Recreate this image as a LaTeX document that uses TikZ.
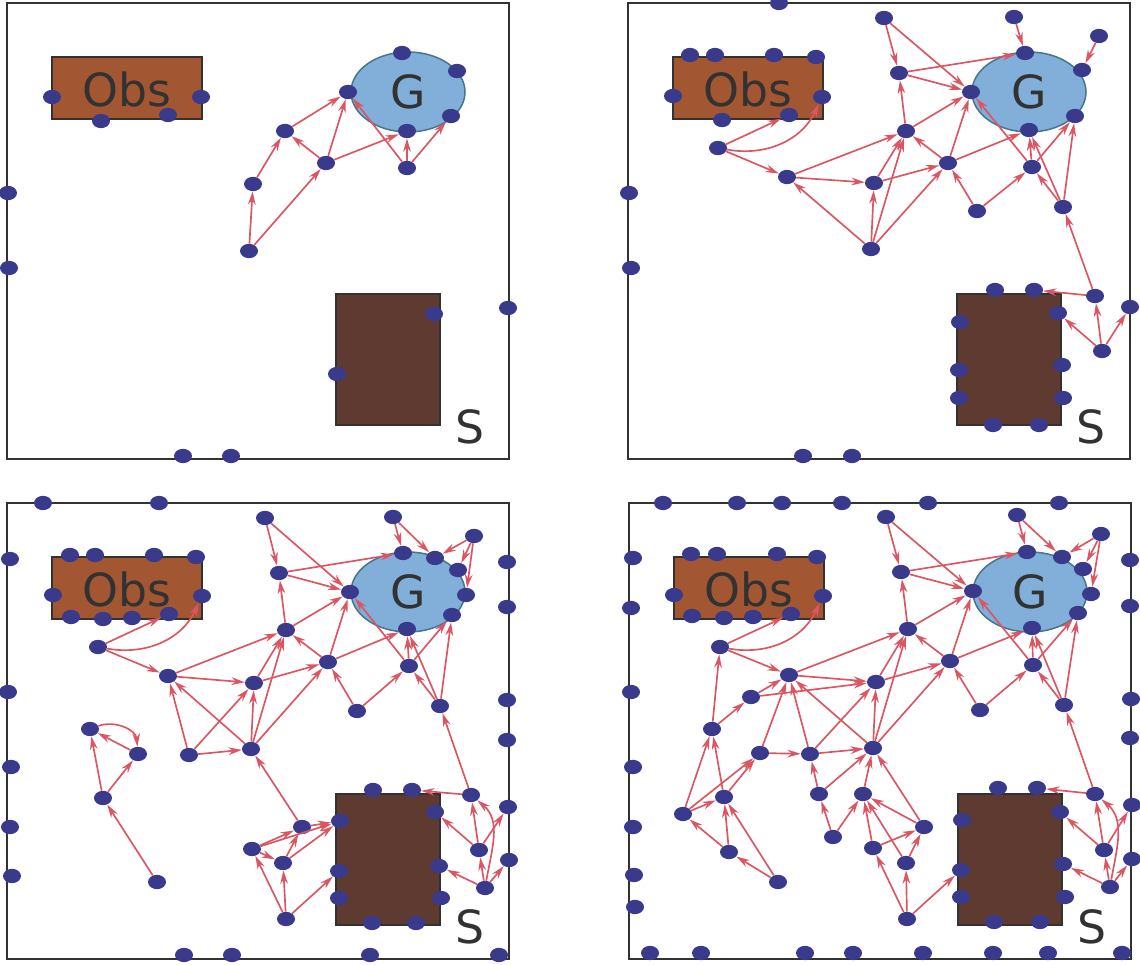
\documentclass[tikz,border=0pt]{standalone}
\usepackage{fontspec}
\setmainfont{DejaVu Sans}
\usetikzlibrary{arrows.meta,shapes.geometric}

\definecolor{nodeblue}{RGB}{58,58,140}
\definecolor{edgered}{RGB}{220,85,98}
\definecolor{obsbrown}{RGB}{163,86,50}
\definecolor{startbrown}{RGB}{94,58,48}
\definecolor{goalblue}{RGB}{130,174,218}
\definecolor{goalline}{RGB}{70,118,135}
\definecolor{framegray}{RGB}{50,50,50}

\tikzset{
  pt/.style={ellipse, fill=nodeblue, minimum width=5.4mm, minimum height=4.3mm, inner sep=0pt},
  link/.style={draw=edgered, line width=0.5mm, -{Stealth[length=4mm,width=2.3mm]}},
  frame/.style={draw=framegray, line width=0.6mm},
  goalarea/.style={fill=goalblue, draw=goalline, line width=0.45mm},
  lbl/.style={text=framegray, font=\fontsize{39}{45}\selectfont},
}

\begin{document}
\begin{tikzpicture}[x=0.3mm,y=-0.3mm]
    \useasboundingbox (0,0) rectangle (1140,965);

    % Panel 1
    \begin{scope}[shift={(7,3)}]
        \draw[frame] (0,0) rectangle (502,456);
        \draw[frame, fill=obsbrown] (45,54) rectangle (195,116);
        \draw[frame, fill=startbrown] (329,291) rectangle (433,422);
        \draw[goalarea] (401,89) ellipse [x radius=57, y radius=40];
        \node[lbl] (obs) at (120,86) {Obs};
        \node[lbl] (goal) at (401,89) {G};
        \node[lbl] (start) at (463,424) {S};

        % samples on the walls
        \node[pt] (o1) at (45,94) {};  \node[pt] (o2) at (94,118) {};
        \node[pt] (o3) at (161,112) {}; \node[pt] (o4) at (194,94) {};
        \node[pt] (lf1) at (1,190) {};  \node[pt] (lf2) at (2,265) {};
        \node[pt] (rt1) at (501,305) {};
        \node[pt] (bt1) at (176,453) {}; \node[pt] (bt2) at (224,453) {};
        \node[pt] (gt) at (395,50) {};  \node[pt] (gr) at (450,68) {};
        \node[pt] (gl) at (341,89) {};  \node[pt] (gd) at (444,113) {};
        \node[pt] (gb) at (400,128) {};
        \node[pt] (s1) at (427,311) {}; \node[pt] (s2) at (330,371) {};

        % tree
        \node[pt] (c) at (246,181) {};
        \node[pt] (d) at (242,248) {};
        \node[pt] (e) at (278,128) {};
        \node[pt] (h) at (319,160) {};
        \node[pt] (j) at (400,165) {};

        \draw[link] (d) edge (c) edge (h);
        \draw[link] (c) edge (e);
        \draw[link] (e) edge (gl);
        \draw[link] (h) edge (e) edge (gl) edge (gb);
        \draw[link] (j) edge (gl) edge (gb) edge (gd);
    \end{scope}

    % Panel 2
    \begin{scope}[shift={(628,3)}]
        \draw[frame] (0,0) rectangle (502,456);
        \draw[frame, fill=obsbrown] (45,54) rectangle (195,116);
        \draw[frame, fill=startbrown] (329,291) rectangle (433,422);
        \draw[goalarea] (401,89) ellipse [x radius=57, y radius=40];
        \node[lbl] (obs) at (120,86) {Obs};
        \node[lbl] (goal) at (401,89) {G};
        \node[lbl] (start) at (463,424) {S};

        % samples on the walls
        \node[pt] (tp1) at (151,0) {};
        \node[pt] (o1) at (45,93) {};   \node[pt] (o2) at (62,52) {};
        \node[pt] (o3) at (87,52) {};   \node[pt] (o4) at (146,52) {};
        \node[pt] (o5) at (188,54) {};  \node[pt] (o6) at (194,94) {};
        \node[pt] (o7) at (94,117) {};  \node[pt] (o8) at (161,112) {};
        \node[pt] (lf1) at (1,190) {};  \node[pt] (lf2) at (3,265) {};
        \node[pt] (rt1) at (502,304) {};
        \node[pt] (bt1) at (175,453) {}; \node[pt] (bt2) at (224,453) {};
        \node[pt] (gt) at (397,50) {};  \node[pt] (gr) at (454,67) {};
        \node[pt] (gl) at (343,89) {};  \node[pt] (gd) at (447,113) {};
        \node[pt] (gb) at (401,127) {};
        \node[pt] (s1) at (367,287) {}; \node[pt] (s2) at (406,287) {};
        \node[pt] (s3) at (430,310) {}; \node[pt] (s4) at (332,319) {};
        \node[pt] (s5) at (331,367) {}; \node[pt] (s6) at (331,395) {};
        \node[pt] (s7) at (434,362) {}; \node[pt] (s8) at (435,395) {};
        \node[pt] (s9) at (365,422) {}; \node[pt] (s10) at (411,422) {};

        % tree
        \node[pt] (a) at (90,145) {};
        \node[pt] (b) at (159,174) {};
        \node[pt] (c) at (246,180) {};
        \node[pt] (d) at (243,246) {};
        \node[pt] (e) at (278,128) {};
        \node[pt] (f) at (271,70) {};
        \node[pt] (g) at (256,15) {};
        \node[pt] (h) at (320,160) {};
        \node[pt] (i) at (349,208) {};
        \node[pt] (j) at (404,164) {};
        \node[pt] (k) at (435,204) {};
        \node[pt] (l) at (386,14) {};
        \node[pt] (m) at (471,33) {};
        \node[pt] (n) at (467,293) {};
        \node[pt] (p) at (474,348) {};

        \draw[link] (a) edge (o8) edge[out=-10,in=-115] (o6) edge (b);
        \draw[link] (b) edge (c) edge (e);
        \draw[link] (d) edge (b) edge (c) edge (e) edge (h);
        \draw[link] (c) edge (h) edge (e);
        \draw[link] (e) edge (f) edge (gl);
        \draw[link] (f) edge (gl) edge (gt);
        \draw[link] (g) edge (f) edge (gl);
        \draw[link] (h) edge (e) edge (gl) edge (gb);
        \draw[link] (i) edge (h) edge (j);
        \draw[link] (j) edge (gb) edge (gd) edge (gl);
        \draw[link] (k) edge (gb) edge (j) edge (gd);
        \draw[link] (l) edge (gt);
        \draw[link] (m) edge (gr);
        \draw[link] (n) edge (k) edge (s2);
        \draw[link] (p) edge (n) edge (s3) edge (rt1);
    \end{scope}

    % Panel 3
    \begin{scope}[shift={(7,503)}]
        \draw[frame] (0,0) rectangle (502,456);
        \draw[frame, fill=obsbrown] (45,54) rectangle (195,116);
        \draw[frame, fill=startbrown] (329,291) rectangle (433,422);
        \draw[goalarea] (401,89) ellipse [x radius=57, y radius=40];
        \node[lbl] (obs) at (120,86) {Obs};
        \node[lbl] (goal) at (401,89) {G};
        \node[lbl] (start) at (463,424) {S};

        % samples on the walls
        \node[pt] (tp1) at (36,0) {};   \node[pt] (tp2) at (152,0) {};
        \node[pt] (lf1) at (3,56) {};   \node[pt] (lf2) at (1,189) {};
        \node[pt] (lf3) at (4,264) {};  \node[pt] (lf4) at (3,324) {};
        \node[pt] (lf5) at (5,373) {};
        \node[pt] (rt1) at (500,59) {}; \node[pt] (rt2) at (500,104) {};
        \node[pt] (rt3) at (500,197) {}; \node[pt] (rt4) at (500,237) {};
        \node[pt] (rt5) at (501,304) {}; \node[pt] (rt6) at (502,357) {};
        \node[pt] (bt1) at (177,452) {}; \node[pt] (bt2) at (225,452) {};
        \node[pt] (bt3) at (363,452) {}; \node[pt] (bt4) at (492,452) {};
        \node[pt] (o1) at (63,52) {};   \node[pt] (o2) at (88,52) {};
        \node[pt] (o3) at (147,52) {};  \node[pt] (o4) at (189,54) {};
        \node[pt] (o5) at (46,92) {};   \node[pt] (o6) at (195,93) {};
        \node[pt] (o7) at (64,114) {};  \node[pt] (o8) at (96,116) {};
        \node[pt] (o9) at (125,115) {}; \node[pt] (o10) at (162,111) {};
        \node[pt] (gt) at (396,50) {};  \node[pt] (g2) at (428,55) {};
        \node[pt] (gr) at (451,67) {};  \node[pt] (g4) at (459,92) {};
        \node[pt] (gd) at (445,112) {}; \node[pt] (gb) at (400,126) {};
        \node[pt] (gl) at (343,89) {};
        \node[pt] (s1) at (366,287) {}; \node[pt] (s2) at (405,287) {};
        \node[pt] (s3) at (428,309) {}; \node[pt] (s4) at (333,318) {};
        \node[pt] (s5) at (332,368) {}; \node[pt] (s6) at (332,395) {};
        \node[pt] (s7) at (432,363) {}; \node[pt] (s8) at (434,395) {};
        \node[pt] (s9) at (365,420) {}; \node[pt] (s10) at (409,420) {};

        % tree
        \node[pt] (a) at (91,144) {};
        \node[pt] (b) at (161,173) {};
        \node[pt] (c) at (247,180) {};
        \node[pt] (d) at (244,246) {};
        \node[pt] (e) at (279,127) {};
        \node[pt] (f) at (272,70) {};
        \node[pt] (g) at (258,15) {};
        \node[pt] (h) at (321,159) {};
        \node[pt] (i) at (350,208) {};
        \node[pt] (j) at (402,163) {};
        \node[pt] (k) at (433,203) {};
        \node[pt] (l) at (386,14) {};
        \node[pt] (m) at (467,33) {};
        \node[pt] (q) at (182,252) {};
        \node[pt] (r) at (83,226) {};
        \node[pt] (s) at (131,251) {};
        \node[pt] (t) at (96,295) {};
        \node[pt] (u) at (150,379) {};
        \node[pt] (v) at (295,324) {};
        \node[pt] (w) at (245,346) {};
        \node[pt] (x) at (276,360) {};
        \node[pt] (y) at (279,416) {};
        \node[pt] (n) at (464,292) {};
        \node[pt] (p) at (472,347) {};
        \node[pt] (z) at (478,385) {};

        \draw[link] (a) edge (o10) edge[out=-10,in=-115] (o6) edge (b);
        \draw[link] (b) edge (c) edge (e);
        \draw[link] (q) edge (b) edge (c) edge (d);
        \draw[link] (d) edge (b) edge (c) edge (e) edge (h);
        \draw[link] (c) edge (h) edge (e);
        \draw[link] (e) edge (f) edge (gl);
        \draw[link] (f) edge (gl) edge (gt);
        \draw[link] (g) edge (f) edge (gl);
        \draw[link] (h) edge (e) edge (gl) edge (gb);
        \draw[link] (i) edge (h) edge (j);
        \draw[link] (j) edge (gb) edge (gd) edge (gl);
        \draw[link] (k) edge (gb) edge (j) edge (gd);
        \draw[link] (l) edge (gt) edge (g2);
        \draw[link] (m) edge (g2) edge (gr) edge (g4);
        \draw[link] (r) edge[out=20,in=95] (s);
        \draw[link] (s) edge (r);
        \draw[link] (t) edge (r) edge (s);
        \draw[link] (u) edge (t);
        \draw[link] (v) edge (d) edge (s4);
        \draw[link] (w) edge (v) edge (s4) edge (x);
        \draw[link] (x) edge (v) edge (s4);
        \draw[link] (y) edge (w) edge (x) edge (s5);
        \draw[link] (n) edge (k) edge (s2);
        \draw[link] (p) edge (n) edge (s3) edge (rt5);
        \draw[link] (z) edge (p) edge (s7) edge (rt6) edge[out=80,in=-40] (n);
    \end{scope}

    % Panel 4
    \begin{scope}[shift={(629,503)}]
        \draw[frame] (0,0) rectangle (502,456);
        \draw[frame, fill=obsbrown] (45,54) rectangle (195,116);
        \draw[frame, fill=startbrown] (329,291) rectangle (433,422);
        \draw[goalarea] (401,89) ellipse [x radius=57, y radius=40];
        \node[lbl] (obs) at (120,86) {Obs};
        \node[lbl] (goal) at (401,89) {G};
        \node[lbl] (start) at (463,424) {S};

        % samples on the walls
        \node[pt] (tp1) at (34,0) {};   \node[pt] (tp2) at (108,0) {};
        \node[pt] (tp3) at (153,0) {};  \node[pt] (tp4) at (213,0) {};
        \node[pt] (tp5) at (299,0) {};  \node[pt] (tp6) at (430,0) {};
        \node[pt] (lf1) at (4,55) {};   \node[pt] (lf2) at (2,105) {};
        \node[pt] (lf3) at (2,189) {};  \node[pt] (lf4) at (4,264) {};
        \node[pt] (lf5) at (4,324) {};  \node[pt] (lf6) at (5,372) {};
        \node[pt] (lf7) at (6,404) {};
        \node[pt] (rt1) at (501,57) {}; \node[pt] (rt2) at (501,103) {};
        \node[pt] (rt3) at (502,196) {}; \node[pt] (rt4) at (501,235) {};
        \node[pt] (rt5) at (503,302) {}; \node[pt] (rt6) at (503,356) {};
        \node[pt] (bt1) at (21,450) {};  \node[pt] (bt2) at (72,450) {};
        \node[pt] (bt3) at (176,450) {}; \node[pt] (bt4) at (224,450) {};
        \node[pt] (bt5) at (294,450) {}; \node[pt] (bt6) at (364,450) {};
        \node[pt] (bt7) at (419,450) {}; \node[pt] (bt8) at (493,450) {};
        \node[pt] (o1) at (62,51) {};   \node[pt] (o2) at (88,51) {};
        \node[pt] (o3) at (148,51) {};  \node[pt] (o4) at (188,54) {};
        \node[pt] (o5) at (45,92) {};   \node[pt] (o6) at (194,93) {};
        \node[pt] (o7) at (63,113) {};  \node[pt] (o8) at (95,115) {};
        \node[pt] (o9) at (124,114) {}; \node[pt] (o10) at (162,111) {};
        \node[pt] (gt) at (398,49) {};  \node[pt] (g2) at (433,54) {};
        \node[pt] (gr) at (454,66) {};  \node[pt] (g4) at (462,91) {};
        \node[pt] (gd) at (449,110) {}; \node[pt] (gb) at (403,125) {};
        \node[pt] (gl) at (344,88) {};
        \node[pt] (s1) at (369,285) {}; \node[pt] (s2) at (408,285) {};
        \node[pt] (s3) at (431,309) {}; \node[pt] (s4) at (333,317) {};
        \node[pt] (s5) at (332,367) {}; \node[pt] (s6) at (332,394) {};
        \node[pt] (s7) at (434,361) {}; \node[pt] (s8) at (436,394) {};
        \node[pt] (s9) at (365,419) {}; \node[pt] (s10) at (411,419) {};

        % tree
        \node[pt] (a) at (91,144) {};
        \node[pt] (b) at (160,172) {};
        \node[pt] (c) at (247,179) {};
        \node[pt] (d) at (244,245) {};
        \node[pt] (e) at (279,126) {};
        \node[pt] (f) at (272,69) {};
        \node[pt] (g) at (257,14) {};
        \node[pt] (h) at (321,158) {};
        \node[pt] (i) at (351,207) {};
        \node[pt] (j) at (404,162) {};
        \node[pt] (k) at (435,202) {};
        \node[pt] (l) at (388,12) {};
        \node[pt] (m) at (472,31) {};
        \node[pt] (q) at (181,251) {};
        \node[pt] (r) at (83,226) {};
        \node[pt] (aa) at (122,194) {};
        \node[pt] (s) at (131,250) {};
        \node[pt] (t) at (95,294) {};
        \node[pt] (bb) at (54,311) {};
        \node[pt] (cc) at (100,349) {};
        \node[pt] (u) at (149,379) {};
        \node[pt] (qq) at (190,291) {};
        \node[pt] (rr) at (204,334) {};
        \node[pt] (ss) at (234,291) {};
        \node[pt] (v) at (295,324) {};
        \node[pt] (w) at (244,345) {};
        \node[pt] (x) at (277,360) {};
        \node[pt] (y) at (278,416) {};
        \node[pt] (n) at (466,291) {};
        \node[pt] (p) at (475,347) {};
        \node[pt] (z) at (481,384) {};

        \draw[link] (a) edge (o10) edge[out=-10,in=-115] (o6) edge (b);
        \draw[link] (r) edge (a) edge (aa);
        \draw[link] (aa) edge (b) edge (c);
        \draw[link] (b) edge (c) edge (e);
        \draw[link] (s) edge (b) edge (q);
        \draw[link] (q) edge (b) edge (c) edge (d);
        \draw[link] (d) edge (b) edge (c) edge (e) edge (h);
        \draw[link] (c) edge (h) edge (e);
        \draw[link] (e) edge (f) edge (gl);
        \draw[link] (f) edge (gl) edge (gt);
        \draw[link] (g) edge (f) edge (gl);
        \draw[link] (h) edge (e) edge (gl) edge (gb);
        \draw[link] (i) edge (h) edge (j);
        \draw[link] (j) edge (gb) edge (gd) edge (gl);
        \draw[link] (k) edge (gb) edge (j) edge (gd);
        \draw[link] (l) edge (gt) edge (g2);
        \draw[link] (m) edge (g2) edge (gr) edge (g4);
        \draw[link] (t) edge (r) edge (s);
        \draw[link] (bb) edge (r) edge (t) edge (s);
        \draw[link] (cc) edge (t) edge (bb);
        \draw[link] (u) edge (cc) edge (t);
        \draw[link] (qq) edge (q) edge (d);
        \draw[link] (rr) edge (qq) edge (ss);
        \draw[link] (ss) edge (d);
        \draw[link] (v) edge (d) edge (ss);
        \draw[link] (w) edge (ss) edge (v);
        \draw[link] (x) edge (ss) edge (v);
        \draw[link] (y) edge (w) edge (x) edge (s5);
        \draw[link] (n) edge (k) edge (s2);
        \draw[link] (p) edge (n) edge (s3) edge (rt5);
        \draw[link] (z) edge (p) edge (s7) edge (rt6) edge[out=80,in=-40] (n);
    \end{scope}
\end{tikzpicture}
\end{document}
